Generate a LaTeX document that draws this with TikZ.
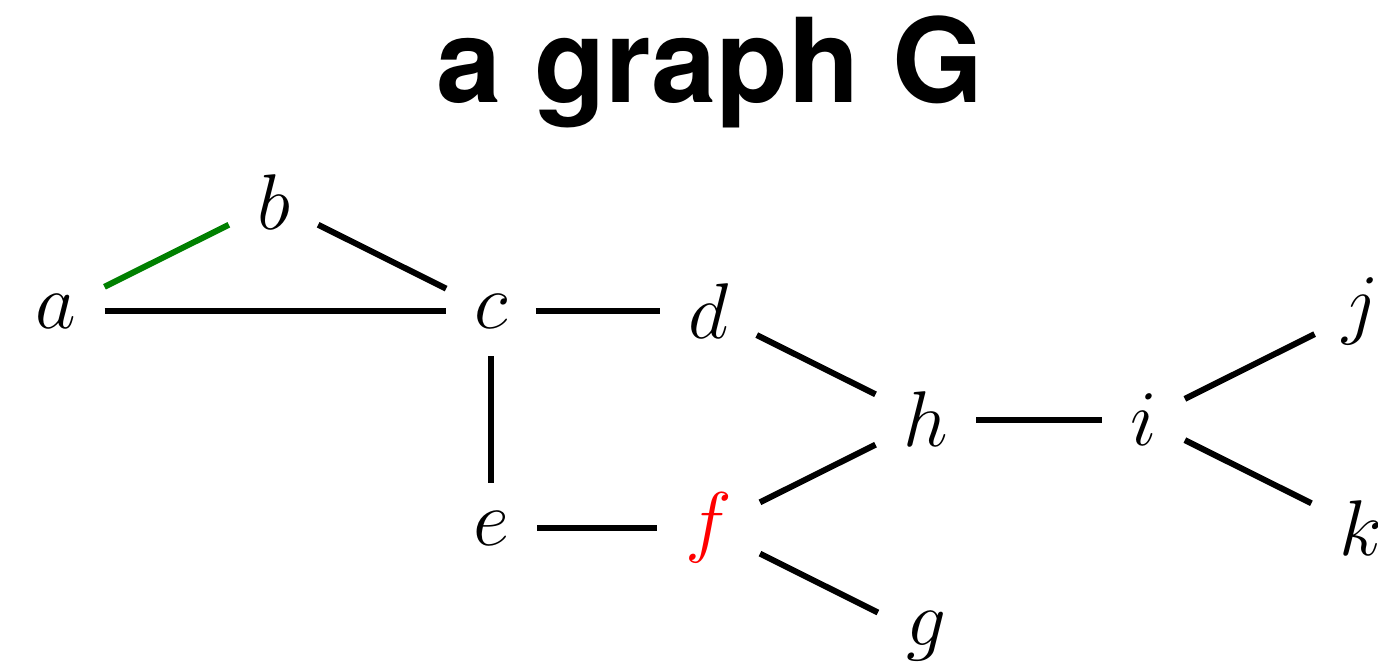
\documentclass[tikz,border=0pt]{standalone}
\usepackage{fix-cm}
\usepackage{fontspec}
\newfontfamily\titlefont{TeX Gyre Heros}
\definecolor{mplgreen}{RGB}{0,128,0}
\definecolor{mplred}{RGB}{255,0,0}
\tikzset{
  vtx/.style={shape=rectangle, inner sep=28pt, font=\fontsize{79}{79}\selectfont},
  link/.style={line width=6pt, draw=black},
  greenlink/.style={link, draw=mplgreen},
}
\begin{document}
\begin{tikzpicture}[x=1pt, y=-1pt]
\useasboundingbox (0,0) rectangle (1378,663);
\node[anchor=base, font=\titlefont\bfseries\fontsize{117}{117}\selectfont] (title) at (710,103) {a graph G};

\node[vtx] (a) at (56,311) {$a$};
\node[vtx] (b) at (273.5,202.5) {$b$};
\node[vtx] (c) at (491,311) {$c$};
\node[vtx] (d) at (708.5,311) {$d$};
\node[vtx] (e) at (491,528) {$e$};
\node[vtx, text=mplred] (f) at (708.5,528) {$f$};
\node[vtx] (g) at (926,636.5) {$g$};
\node[vtx] (h) at (926,419.5) {$h$};
\node[vtx] (i) at (1143.5,419.5) {$i$};
\node[vtx] (j) at (1361,311) {$j$};
\node[vtx] (k) at (1361,528) {$k$};

\draw[greenlink] (a) -- (b);
\draw[link] (b) -- (c);
\draw[link] (a) -- (c);
\draw[link] (c) -- (d);
\draw[link] (c) -- (e);
\draw[link] (d) -- (h);
\draw[link] (e) -- (f);
\draw[link] (f) -- (h);
\draw[link] (f) -- (g);
\draw[link] (h) -- (i);
\draw[link] (i) -- (j);
\draw[link] (i) -- (k);
\end{tikzpicture}
\end{document}
